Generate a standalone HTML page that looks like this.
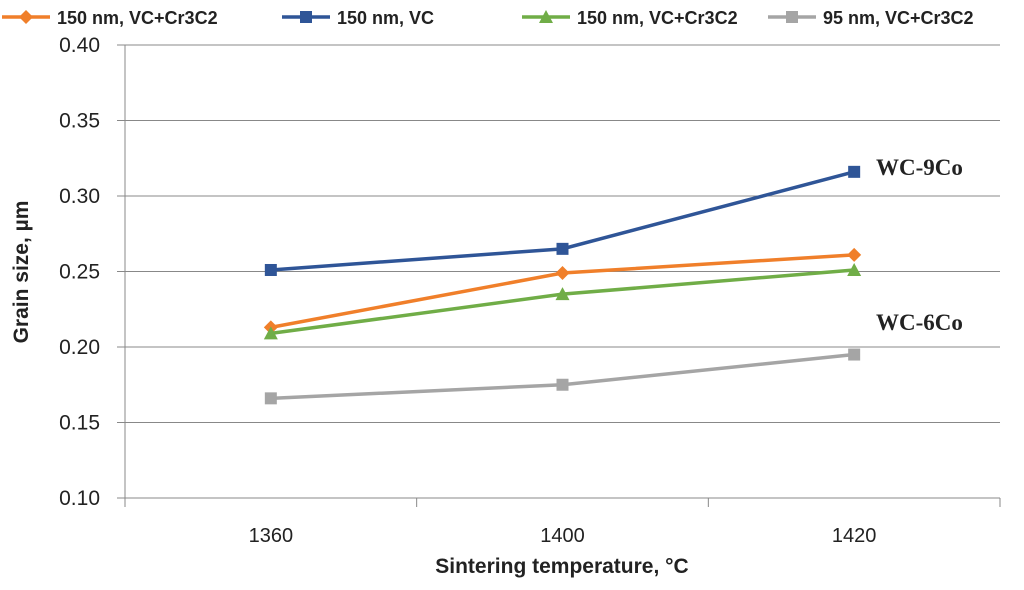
<!DOCTYPE html>
<html><head><meta charset="utf-8"><style>
body{margin:0;background:#fff;width:1024px;height:585px;overflow:hidden;}
svg text{font-family:"Liberation Sans",sans-serif;}
</style></head><body>
<svg id="chart" width="1024" height="585" xmlns="http://www.w3.org/2000/svg"></svg>
<script>
const categories=["1360","1400","1420"];
const seriesNames=["150 nm, VC+Cr3C2","150 nm, VC","150 nm, VC+Cr3C2","95 nm, VC+Cr3C2"];
const orangeValues=[0.213,0.249,0.261];
const blueValues=[0.251,0.265,0.316];
const greenValues=[0.209,0.235,0.251];
const grayValues=[0.166,0.175,0.195];
const yTicks=[0.10,0.15,0.20,0.25,0.30,0.35,0.40];
const NS="http://www.w3.org/2000/svg";
const svg=document.getElementById('chart');
const L=125,R=1000,T=45,B=498,yMin=0.10,yMax=0.40;
const catW=(R-L)/(categories.length+0);
function y(v){return B-(v-yMin)/(yMax-yMin)*(B-T);}
function x(i){return L+catW*(i+0.5);}
function mk(tag,attrs,name,txt){const e=document.createElementNS(NS,tag);for(const k in attrs)e.setAttribute(k,attrs[k]);


if(txt!==undefined)e.textContent=txt;svg.appendChild(e);return e;}
yTicks.forEach(t=>{
 mk('line',{x1:L,x2:R,y1:y(t),y2:y(t),stroke:'#888','stroke-width':1},'gridline');
 mk('line',{x1:L-8,x2:L,y1:y(t),y2:y(t),stroke:'#888','stroke-width':1},'y-tick');
 mk('text',{x:100,y:y(t)+7,'text-anchor':'end','font-size':21,fill:'#222'},'y-tick-label',t.toFixed(2));
});
mk('line',{x1:L,x2:L,y1:T,y2:B,stroke:'#888','stroke-width':1},'y-axis-line');
for(let i=0;i<=categories.length;i++){const xx=L+catW*i;mk('line',{x1:xx,x2:xx,y1:B,y2:B+9,stroke:'#888'},'x-tick');}
categories.forEach((c,i)=>mk('text',{x:x(i),y:542,'text-anchor':'middle','font-size':20,fill:'#222'},'x-tick-label',c));
mk('text',{x:562,y:573,'text-anchor':'middle','font-size':21,'font-weight':'bold',fill:'#222'},'x-axis-title','Sintering temperature, °C');
mk('text',{x:28,y:272,'text-anchor':'middle','font-size':21,'font-weight':'bold',fill:'#222',transform:'rotate(-90 28 272)'},'y-axis-title','Grain size, µm');
function marker(shape,cx,cy,col,name){
 if(shape==='d')mk('polygon',{points:`${cx},${cy-7} ${cx+7},${cy} ${cx},${cy+7} ${cx-7},${cy}`,fill:col},name);
 else if(shape==='s')mk('rect',{x:cx-6,y:cy-6,width:12,height:12,fill:col},name);
 else mk('polygon',{points:`${cx},${cy-7} ${cx+7},${cy+6} ${cx-7},${cy+6}`,fill:col},name);
}
const series=[[orangeValues,'#f07f2a','d','orange'],[blueValues,'#2f5597','s','blue'],[greenValues,'#70ad47','t','green'],[grayValues,'#a5a5a5','s','gray']];
series.forEach(([vals,col,sh,nm])=>{
 mk('polyline',{points:vals.map((v,i)=>x(i)+','+y(v)).join(' '),fill:'none',stroke:col,'stroke-width':3.5},'line-'+nm);
 vals.forEach((v,i)=>marker(sh,x(i),y(v),col,'point-'+nm));
});
const legX=[2,282,522,768];
series.forEach(([vals,col,sh,nm],k)=>{
 const lx=legX[k];
 mk('line',{x1:lx,x2:lx+48,y1:17,y2:17,stroke:col,'stroke-width':3.5},'legend-line-'+nm);
 marker(sh,lx+24,17,col,'legend-marker-'+nm);
 mk('text',{x:lx+55,y:24,'font-size':18,'font-weight':'bold',fill:'#222'},'legend-label-'+nm,seriesNames[k]);
});
mk('text',{x:876,y:175,'font-size':23,'font-weight':'bold',fill:'#222',style:'font-family:"Liberation Serif",serif'},'annotation-wc-9co','WC-9Co');
mk('text',{x:876,y:330,'font-size':23,'font-weight':'bold',fill:'#222',style:'font-family:"Liberation Serif",serif'},'annotation-wc-6co','WC-6Co');
</script>
</body></html>
